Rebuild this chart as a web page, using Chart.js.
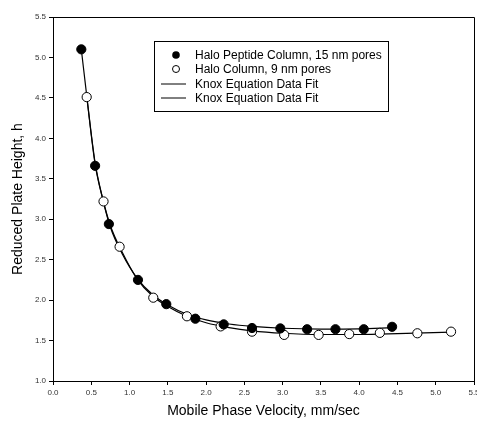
<!DOCTYPE html>
<html>
<head>
<meta charset="utf-8">
<script src="https://cdn.jsdelivr.net/npm/chart.js@4"></script>
<style>
html,body{margin:0;padding:0;background:#fff;}
#wrap{width:477px;height:422px;position:relative;}
</style>
</head>
<body>
<div id="wrap"><canvas id="c" width="477" height="422"></canvas></div>
<script>
// Halo Peptide Column, 15 nm pores (filled)
const peptideU = [0.37, 0.55, 0.73, 1.11, 1.48, 1.86, 2.23, 2.60, 2.97, 3.32, 3.69, 4.06, 4.43];
const peptideH = [5.10, 3.66, 2.94, 2.25, 1.95, 1.77, 1.70, 1.655, 1.65, 1.64, 1.64, 1.64, 1.67];
// Halo Column, 9 nm pores (open)
const haloU = [0.44, 0.66, 0.87, 1.31, 1.75, 2.19, 2.60, 3.02, 3.47, 3.87, 4.27, 4.76, 5.20];
const haloH = [4.51, 3.22, 2.66, 2.03, 1.80, 1.675, 1.61, 1.57, 1.57, 1.58, 1.595, 1.59, 1.61];
// Knox fit lines
const fit1U = [0.37, 0.45, 0.55, 0.65, 0.75, 0.9, 1.1, 1.3, 1.5, 1.75, 2.0, 2.3, 2.6, 3.0, 3.5, 4.0, 4.43];
const fit1H = [5.10, 4.45, 3.70, 3.25, 2.90, 2.58, 2.27, 2.07, 1.94, 1.825, 1.755, 1.705, 1.675, 1.652, 1.642, 1.645, 1.66];
const fit2U = [0.44, 0.55, 0.65, 0.75, 0.9, 1.1, 1.3, 1.5, 1.75, 2.0, 2.3, 2.6, 3.0, 3.5, 4.0, 4.5, 5.2];
const fit2H = [4.52, 3.68, 3.25, 2.92, 2.60, 2.26, 2.05, 1.92, 1.80, 1.72, 1.66, 1.62, 1.59, 1.575, 1.575, 1.585, 1.605];

const legendLabels = ["Halo Peptide Column, 15 nm pores", "Halo Column, 9 nm pores", "Knox Equation Data Fit", "Knox Equation Data Fit"];
const xTitle = "Mobile Phase Velocity, mm/sec";
const yTitle = "Reduced Plate Height, h";

const pts = (u, h) => u.map((v, i) => ({x: v, y: h[i]}));

const frame = {
  id: 'frame',
  afterDraw(chart) {
    const {ctx, chartArea: a} = chart;
    ctx.save();
    ctx.strokeStyle = '#000';
    ctx.lineWidth = 1;
    ctx.beginPath();
    ctx.moveTo(a.left, a.top + 0.5);
    ctx.lineTo(a.right + 0.5, a.top + 0.5);
    ctx.lineTo(a.right + 0.5, a.bottom);
    ctx.stroke();
    // legend
    const bx = 154.5, by = 41.5, bw = 234, bh = 70;
    ctx.fillStyle = '#fff';
    ctx.fillRect(bx, by, bw, bh);
    ctx.strokeRect(bx, by, bw, bh);
    ctx.font = '12px "Liberation Sans", Arial, sans-serif';
    ctx.textBaseline = 'middle';
    ctx.textAlign = 'left';
    const rows = [55, 69, 84, 98];
    ctx.fillStyle = '#000';
    ctx.beginPath(); ctx.arc(176, rows[0], 3.8, 0, Math.PI * 2); ctx.fill();
    ctx.beginPath(); ctx.arc(176, rows[1], 3.5, 0, Math.PI * 2); ctx.stroke();
    ctx.beginPath(); ctx.moveTo(161, rows[2]); ctx.lineTo(186, rows[2]); ctx.stroke();
    ctx.beginPath(); ctx.moveTo(161, rows[3]); ctx.lineTo(186, rows[3]); ctx.stroke();
    legendLabels.forEach((t, i) => ctx.fillText(t, 195, rows[i] + 0.5));
    ctx.restore();
  }
};

new Chart(document.getElementById('c'), {
  type: 'scatter',
  data: {
    datasets: [
      {data: pts(fit1U, fit1H), showLine: true, borderColor: '#000', borderWidth: 1.2, pointRadius: 0, cubicInterpolationMode: 'monotone', order: 3},
      {data: pts(fit2U, fit2H), showLine: true, borderColor: '#000', borderWidth: 1.2, pointRadius: 0, cubicInterpolationMode: 'monotone', order: 4},
      {data: pts(peptideU, peptideH), pointRadius: 4.6, backgroundColor: '#000', borderColor: '#000', borderWidth: 1, order: 1},
      {data: pts(haloU, haloH), pointRadius: 4.6, backgroundColor: '#fff', borderColor: '#000', borderWidth: 1, order: 2}
    ]
  },
  options: {
    responsive: false,
    animation: false,
    events: [],
    layout: {autoPadding: false, padding: {left: 0, right: 3, top: 17, bottom: 0}},
    plugins: {legend: {display: false}, tooltip: {enabled: false}},
    scales: {
      x: {
        type: 'linear', min: 0, max: 5.5,
        afterFit(s) { s.height = 41; s.paddingRight = 0; s.paddingLeft = 0; },
        ticks: {stepSize: 0.5, color: '#333', padding: 3, font: {size: 8, family: '"Liberation Sans", Arial, sans-serif'}, callback: v => v.toFixed(1), maxRotation: 0, autoSkip: false},
        grid: {drawOnChartArea: false, drawTicks: true, tickLength: 4, color: '#000', tickColor: '#000'},
        border: {color: '#000', width: 1},
        title: {display: true, text: xTitle, color: '#000', font: {size: 14, family: '"Liberation Sans", Arial, sans-serif'}, padding: {top: 2, bottom: 2.6}}
      },
      y: {
        type: 'linear', min: 1, max: 5.5,
        afterFit(s) { s.width = 53; s.paddingTop = 0; s.paddingBottom = 0; },
        ticks: {stepSize: 0.5, color: '#333', padding: 3, font: {size: 8, family: '"Liberation Sans", Arial, sans-serif'}, callback: v => v.toFixed(1)},
        grid: {drawOnChartArea: false, drawTicks: true, tickLength: 4, color: '#000', tickColor: '#000'},
        border: {color: '#000', width: 1},
        title: {display: true, text: yTitle, color: '#000', font: {size: 14, family: '"Liberation Sans", Arial, sans-serif'}, padding: {top: 9.5, bottom: 2}}
      }
    }
  },
  plugins: [frame]
});
</script>
</body>
</html>
